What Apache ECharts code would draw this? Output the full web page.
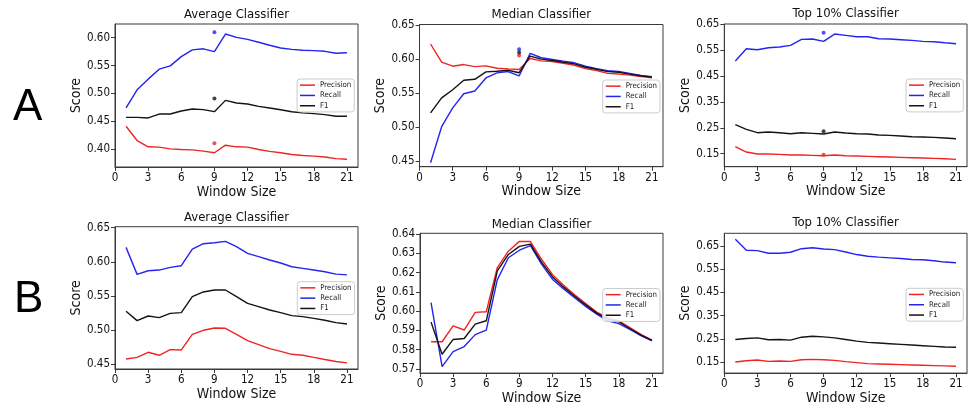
<!DOCTYPE html>
<html>
<head>
<meta charset="utf-8">
<script src="https://cdn.jsdelivr.net/npm/echarts@6/dist/echarts.min.js"></script>
<style>
html, body { margin: 0; padding: 0; background: #fff; }
#chart { width: 972px; height: 406px; }
</style>
</head>
<body>
<div id="chart"></div>
<script>
// window sizes on the x axis
const windowSizes = [1, 2, 3, 4, 5, 6, 7, 8, 9, 10, 11, 12, 13, 14, 15, 16, 17, 18, 19, 20, 21];
const xTicks = [0, 3, 6, 9, 12, 15, 18, 21];
const seriesNames = ['Precision', 'Recall', 'F1'];

// row A
const avgA_precision = [0.441, 0.4155, 0.4042, 0.4036, 0.4006, 0.3994, 0.3988, 0.3964, 0.3935, 0.4071, 0.4042, 0.4036, 0.3994, 0.396, 0.3935, 0.3905, 0.3887, 0.3875, 0.386, 0.383, 0.382];
const avgA_recall = [0.474, 0.5065, 0.5256, 0.5435, 0.5494, 0.566, 0.578, 0.58, 0.575, 0.6065, 0.6006, 0.597, 0.5917, 0.5863, 0.5815, 0.579, 0.5774, 0.5768, 0.5755, 0.572, 0.573];
const avgA_f1 = [0.457, 0.457, 0.456, 0.463, 0.463, 0.4685, 0.472, 0.471, 0.4673, 0.4875, 0.4827, 0.481, 0.4768, 0.4738, 0.4708, 0.467, 0.465, 0.4637, 0.462, 0.459, 0.459];
const avgA_dots = [0.4107, 0.6095, 0.491];

const medA_precision = [0.6223, 0.5955, 0.5896, 0.592, 0.589, 0.590, 0.5866, 0.5856, 0.5847, 0.601, 0.5975, 0.5965, 0.594, 0.591, 0.586, 0.583, 0.579, 0.578, 0.5765, 0.5745, 0.5725];
const medA_recall = [0.4475, 0.5005, 0.5282, 0.549, 0.553, 0.5723, 0.5797, 0.5817, 0.5752, 0.6084, 0.602, 0.5995, 0.597, 0.5946, 0.5896, 0.586, 0.583, 0.582, 0.579, 0.576, 0.574];
const medA_f1 = [0.5208, 0.543, 0.555, 0.5688, 0.5703, 0.5812, 0.5822, 0.5837, 0.580, 0.6045, 0.600, 0.598, 0.5955, 0.593, 0.588, 0.5851, 0.5817, 0.5807, 0.578, 0.5755, 0.5735];
const medA_dots = [0.6054, 0.6144, 0.6099];

const topA_precision = [0.177, 0.1564, 0.1487, 0.1487, 0.1474, 0.1449, 0.1449, 0.1436, 0.1423, 0.1449, 0.1423, 0.141, 0.1397, 0.1384, 0.1371, 0.1359, 0.1346, 0.1333, 0.132, 0.1307, 0.1282];
const topA_recall = [0.5073, 0.5549, 0.551, 0.5587, 0.5613, 0.5677, 0.5909, 0.5922, 0.5832, 0.6114, 0.6063, 0.6012, 0.6012, 0.5934, 0.5922, 0.5896, 0.587, 0.5832, 0.582, 0.578, 0.5742];
const topA_f1 = [0.2618, 0.2438, 0.231, 0.2335, 0.231, 0.2271, 0.231, 0.2284, 0.2258, 0.2335, 0.2297, 0.2271, 0.2258, 0.222, 0.2207, 0.2181, 0.2155, 0.2143, 0.213, 0.2104, 0.2078];
const topA_dots = [0.1462, 0.6166, 0.2361];

// row B
const avgB_precision = [0.4578, 0.4602, 0.4676, 0.4632, 0.4715, 0.471, 0.4939, 0.4998, 0.5032, 0.5027, 0.4939, 0.4846, 0.4788, 0.4729, 0.469, 0.4646, 0.4632, 0.4602, 0.457, 0.454, 0.452];
const avgB_recall = [0.6212, 0.5817, 0.587, 0.588, 0.592, 0.5944, 0.6188, 0.6266, 0.628, 0.630, 0.6222, 0.6124, 0.6076, 0.6027, 0.5983, 0.5929, 0.5905, 0.588, 0.5855, 0.582, 0.581];
const avgB_f1 = [0.5276, 0.5139, 0.5207, 0.5183, 0.5246, 0.5256, 0.549, 0.5559, 0.5588, 0.5588, 0.549, 0.5393, 0.5344, 0.5295, 0.5256, 0.5212, 0.5198, 0.5173, 0.5145, 0.511, 0.509];

const medB_precision = [0.5841, 0.5841, 0.5924, 0.5902, 0.5994, 0.5997, 0.6227, 0.6312, 0.6363, 0.6362, 0.627, 0.619, 0.6135, 0.6085, 0.604, 0.5995, 0.5965, 0.595, 0.5915, 0.588, 0.585];
const medB_recall = [0.6045, 0.5712, 0.579, 0.5816, 0.5878, 0.5902, 0.6164, 0.6278, 0.6317, 0.6341, 0.6245, 0.6165, 0.6115, 0.607, 0.6025, 0.5985, 0.595, 0.5935, 0.5905, 0.5873, 0.5845];
const medB_f1 = [0.5943, 0.5776, 0.5853, 0.5858, 0.5933, 0.595, 0.621, 0.6295, 0.6337, 0.6349, 0.6255, 0.6178, 0.6125, 0.6078, 0.6033, 0.599, 0.596, 0.5945, 0.591, 0.5875, 0.5848];

const topB_precision = [0.1514, 0.157, 0.1598, 0.1542, 0.1556, 0.1542, 0.1612, 0.1626, 0.1612, 0.1584, 0.1528, 0.1486, 0.1444, 0.143, 0.1416, 0.1402, 0.1388, 0.1374, 0.136, 0.1346, 0.1332];
const topB_recall = [0.678, 0.6304, 0.629, 0.6178, 0.6178, 0.622, 0.6374, 0.6416, 0.636, 0.6332, 0.6234, 0.6122, 0.6052, 0.601, 0.5982, 0.5954, 0.5912, 0.5898, 0.5856, 0.58, 0.5772];
const topB_f1 = [0.248, 0.2522, 0.255, 0.2466, 0.248, 0.2452, 0.2578, 0.262, 0.2592, 0.255, 0.248, 0.241, 0.2354, 0.2326, 0.2298, 0.227, 0.2242, 0.2214, 0.2186, 0.2158, 0.2144];

// y tick labels
const yTicksAvgA = [0.40, 0.45, 0.50, 0.55, 0.60];
const yTicksMedA = [0.45, 0.50, 0.55, 0.60, 0.65];
const yTicksTop = [0.15, 0.25, 0.35, 0.45, 0.55, 0.65];
const yTicksAvgB = [0.45, 0.50, 0.55, 0.60, 0.65];
const yTicksMedB = [0.57, 0.58, 0.59, 0.60, 0.61, 0.62, 0.63, 0.64];

const FONT = "'DejaVu Sans Condensed', 'DejaVu Sans', sans-serif";
const colors = ['#f02424', '#2424f0', '#141414'];

const panels = [
    {title: 'Average Classifier', vals: [avgA_precision, avgA_recall, avgA_f1], dots: avgA_dots, ticks: yTicksAvgA,
        box: [115, 24, 243, 143], ylim: [0.368, 0.6245], legend: [297, 79], titleTop: 8},
    {title: 'Median Classifier', vals: [medA_precision, medA_recall, medA_f1], dots: medA_dots, ticks: yTicksMedA,
        box: [419.5, 24.5, 243.5, 142.2], ylim: [0.4416, 0.651], legend: [602.7, 80], titleTop: 8},
    {title: 'Top 10% Classifier', vals: [topA_precision, topA_recall, topA_f1], dots: topA_dots, ticks: yTicksTop,
        box: [724.3, 24, 242.7, 142.7], ylim: [0.0998, 0.6502], legend: [906, 79], titleTop: 7},
    {title: 'Average Classifier', vals: [avgB_precision, avgB_recall, avgB_f1], ticks: yTicksAvgB,
        box: [115, 226.7, 243, 142.3], ylim: [0.4431, 0.6515], legend: [297.3, 281.7], titleTop: 211},
    {title: 'Median Classifier', vals: [medB_precision, medB_recall, medB_f1], ticks: yTicksMedB,
        box: [420, 233.3, 243, 142.7], ylim: [0.5678, 0.6405], legend: [602.7, 288.5], titleTop: 218},
    {title: 'Top 10% Classifier', vals: [topB_precision, topB_recall, topB_f1], ticks: yTicksTop,
        box: [724.3, 233.3, 242.7, 142.7], ylim: [0.1038, 0.7034], legend: [906, 288.3], titleTop: 216.5}
];

const axisColor = '#3a3a3a';
const textColor = '#111';
const grids = [], xAxes = [], yAxes = [], titles = [], legends = [], series = [];

panels.forEach(function (p, i) {
    const [left, top, width, height] = p.box;
    grids.push({left: left, top: top, width: width, height: height, show: true,
        borderColor: axisColor, borderWidth: 1, backgroundColor: 'transparent'});
    xAxes.push({
        type: 'value', gridIndex: i, min: 0, max: 22,
        name: 'Window Size', nameLocation: 'middle', nameGap: 17,
        nameTextStyle: {fontFamily: FONT, fontSize: 14, color: textColor},
        axisLine: {show: true, lineStyle: {color: axisColor}},
        axisTick: {show: true, length: 4, lineStyle: {color: axisColor}, customValues: xTicks},
        axisLabel: {margin: 5, fontFamily: FONT, fontSize: 11.5, color: textColor, customValues: xTicks},
        splitLine: {show: false}
    });
    yAxes.push({
        type: 'value', gridIndex: i, min: p.ylim[0], max: p.ylim[1],
        name: 'Score', nameLocation: 'middle', nameGap: 30,
        nameTextStyle: {fontFamily: FONT, fontSize: 14, color: textColor},
        axisLine: {show: true, lineStyle: {color: axisColor}},
        axisTick: {show: true, length: 4, lineStyle: {color: axisColor}, customValues: p.ticks},
        axisLabel: {margin: 5, fontFamily: FONT, fontSize: 11.5, color: textColor, customValues: p.ticks,
            formatter: function (v) { return v.toFixed(2); }},
        splitLine: {show: false}
    });
    titles.push({
        text: p.title, left: left + width / 2, top: p.titleTop, textAlign: 'center', padding: 0,
        textStyle: {fontFamily: FONT, fontSize: 13, fontWeight: 'normal', color: textColor}
    });
    legends.push({
        left: p.legend[0], top: p.legend[1], orient: 'vertical', data: seriesNames,
        icon: 'rect', itemWidth: 15, itemHeight: 1.5, itemGap: 0,
        padding: [1, 3, 1, 3], borderColor: '#ccc', borderWidth: 1, borderRadius: 3,
        backgroundColor: 'rgba(255,255,255,0.85)',
        textStyle: {fontFamily: FONT, fontSize: 7.8, lineHeight: 10.3, color: '#222'}
    });
    p.vals.forEach(function (vals, k) {
        series.push({
            name: seriesNames[k], type: 'line', xAxisIndex: i, yAxisIndex: i,
            data: windowSizes.map(function (w, j) { return [w, vals[j]]; }),
            symbol: 'none', lineStyle: {width: 1.4, color: colors[k]}, itemStyle: {color: colors[k]},
            animation: false
        });
    });
    if (p.dots) {
        p.dots.forEach(function (v, k) {
            series.push({
                type: 'scatter', xAxisIndex: i, yAxisIndex: i, data: [[9, v]],
                symbolSize: 4, itemStyle: {color: colors[k]}, silent: true, animation: false
            });
        });
    }
});

const myChart = echarts.init(document.getElementById('chart'));
myChart.setOption({
    animation: false,
    backgroundColor: '#fff',
    title: titles,
    legend: legends,
    grid: grids,
    xAxis: xAxes,
    yAxis: yAxes,
    series: series,
    graphic: [
        {type: 'text', left: 13, top: 86, style: {text: 'A', fontFamily: "'Liberation Sans', Arial, sans-serif", fontSize: 44, fill: '#000'}},
        {type: 'text', left: 14, top: 278, style: {text: 'B', fontFamily: "'Liberation Sans', Arial, sans-serif", fontSize: 44, fill: '#000'}}
    ]
});
</script>
</body>
</html>
